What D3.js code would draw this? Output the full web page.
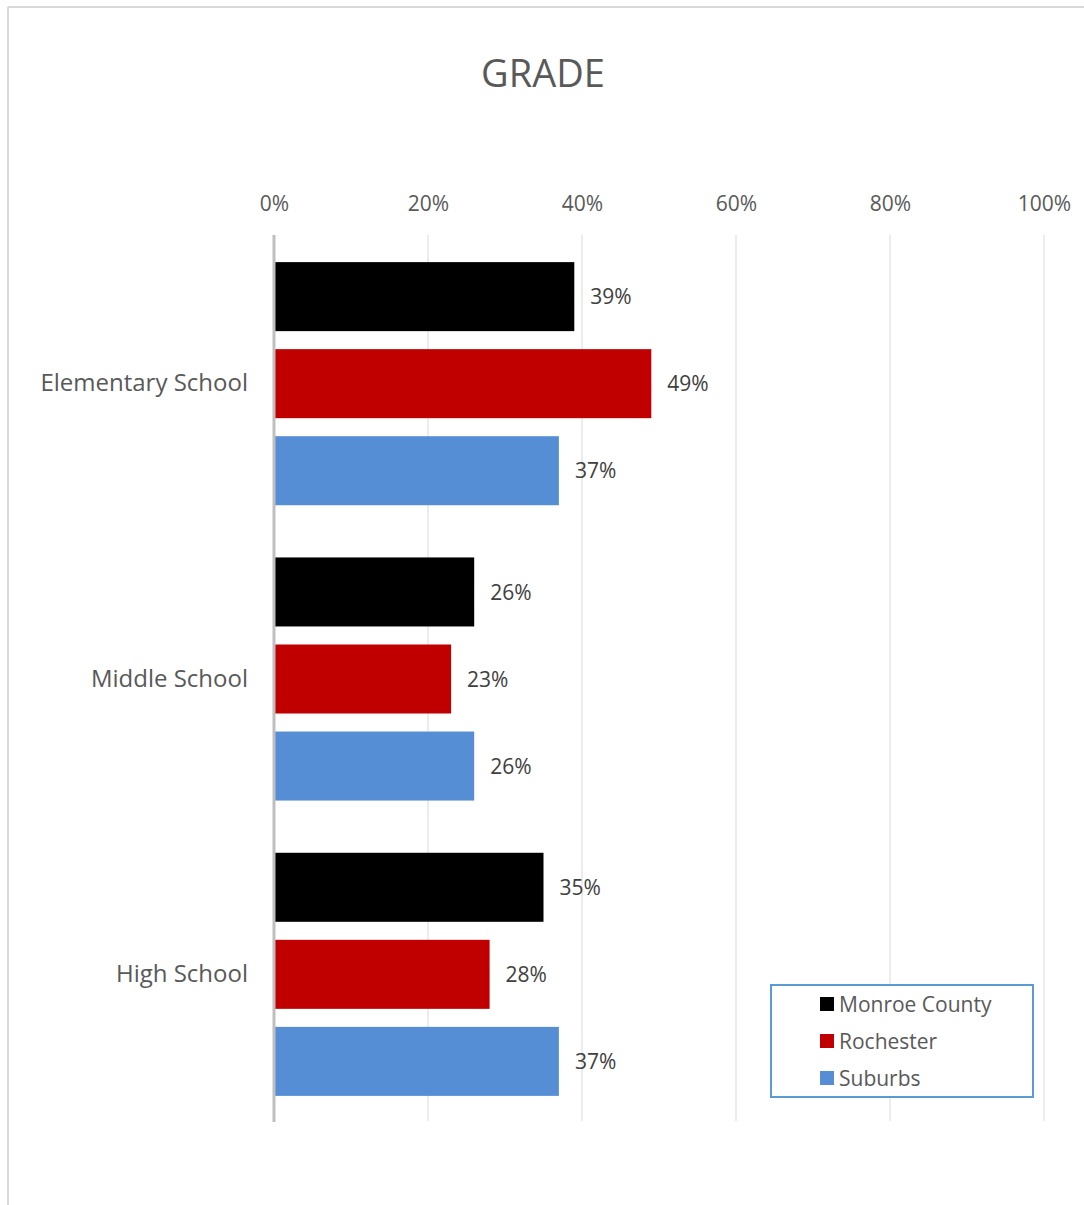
<!DOCTYPE html>
<html>
<head>
<meta charset="utf-8">
<script src="https://cdn.jsdelivr.net/npm/d3@7"></script>
<style>
  html, body { margin: 0; padding: 0; background: #ffffff; }
  svg { display: block; font-family: "Open Sans", "Noto Sans", sans-serif; }
</style>
</head>
<body>
<svg id="chart" width="1084" height="1205"></svg>
<script>
const categories = ["Elementary School", "Middle School", "High School"];
const seriesNames = ["Monroe County", "Rochester", "Suburbs"];
const monroeCounty = [0.39, 0.26, 0.35];
const rochester = [0.49, 0.23, 0.28];
const suburbs = [0.37, 0.26, 0.37];
const tickValues = [0, 0.2, 0.4, 0.6, 0.8, 1.0];
const seriesColors = ["#000000", "#c00000", "#558ed5"];
const title = "GRADE";

const seriesValues = [monroeCounty, rochester, suburbs];
const data = categories.map((c, i) => ({
  category: c,
  values: seriesNames.map((s, j) => ({ series: s, value: seriesValues[j][i], color: seriesColors[j] }))
}));

const svg = d3.select("#chart");

// outer chart border (top and left visible)
svg.append("line").attr("x1", 8).attr("x2", 1084).attr("y1", 7).attr("y2", 7)
  .attr("stroke", "#d9d9d9").attr("stroke-width", 2);
svg.append("line").attr("x1", 8).attr("x2", 8).attr("y1", 7).attr("y2", 1205)
  .attr("stroke", "#d9d9d9").attr("stroke-width", 2);

// title
svg.append("text").attr("x", 543).attr("y", 87).attr("text-anchor", "middle")
  .attr("font-size", 38).attr("fill", "#595959").text(title);

const x = d3.scaleLinear().domain([0, 1]).range([274, 1044]);
const y = d3.scaleBand().domain(categories).range([236, 1122]).paddingInner(0).paddingOuter(0);
const ySub = d3.scaleBand().domain(seriesNames).range([0, y.bandwidth()]).paddingInner(0.207).paddingOuter(0.30);

// gridlines
svg.append("g").selectAll("line").data(tickValues.slice(1)).join("line")
  .attr("x1", d => x(d)).attr("x2", d => x(d))
  .attr("y1", 235).attr("y2", 1121)
  .attr("stroke", "#e6e6e6").attr("stroke-width", 1.5);

// top axis tick labels
const xAxis = d3.axisTop(x).tickValues(tickValues).tickFormat(d3.format(".0%")).tickSize(0).tickPadding(0);
const gx = svg.append("g").attr("transform", "translate(0,211)").call(xAxis);
gx.select(".domain").remove();
gx.selectAll("text").attr("font-size", 21).attr("fill", "#595959")
  .attr("font-family", "'Open Sans', 'Noto Sans', sans-serif").attr("dy", 0);

// bars
const groups = svg.append("g").selectAll("g").data(data).join("g")
  .attr("transform", d => `translate(0,${y(d.category)})`);
groups.selectAll("rect").data(d => d.values).join("rect")
  .attr("x", x(0))
  .attr("y", d => ySub(d.series))
  .attr("width", d => x(d.value) - x(0))
  .attr("height", ySub.bandwidth())
  .attr("fill", d => d.color);
groups.selectAll("text.lbl").data(d => d.values).join("text")
  .attr("class", "lbl")
  .attr("x", d => x(d.value) + 16)
  .attr("y", d => ySub(d.series) + ySub.bandwidth() / 2)
  .attr("dy", "0.36em")
  .attr("font-size", 21).attr("fill", "#404040")
  .text(d => d3.format(".0%")(d.value));

// category axis
const yAxis = d3.axisLeft(y).tickSize(0).tickPadding(26);
const gy = svg.append("g").attr("transform", `translate(${x(0)},0)`).call(yAxis);
gy.select(".domain").attr("stroke", "#bfbfbf").attr("stroke-width", 3)
  .attr("d", `M0,235V1122`);
gy.selectAll("text").attr("font-size", 24).attr("fill", "#595959")
  .attr("font-family", "'Open Sans', 'Noto Sans', sans-serif");

// legend
const legend = svg.append("g");
legend.append("rect").attr("x", 771).attr("y", 985).attr("width", 262).attr("height", 112)
  .attr("fill", "#ffffff").attr("stroke", "#5b9bd5").attr("stroke-width", 2);
const items = legend.selectAll("g").data(seriesNames).join("g")
  .attr("transform", (d, i) => `translate(820,${997 + i * 37})`);
items.append("rect").attr("width", 14).attr("height", 14).attr("fill", (d, i) => seriesColors[i]);
items.append("text").attr("x", 19).attr("y", 7).attr("dy", "0.36em")
  .attr("font-size", 21).attr("fill", "#595959").text(d => d);
</script>
</body>
</html>
